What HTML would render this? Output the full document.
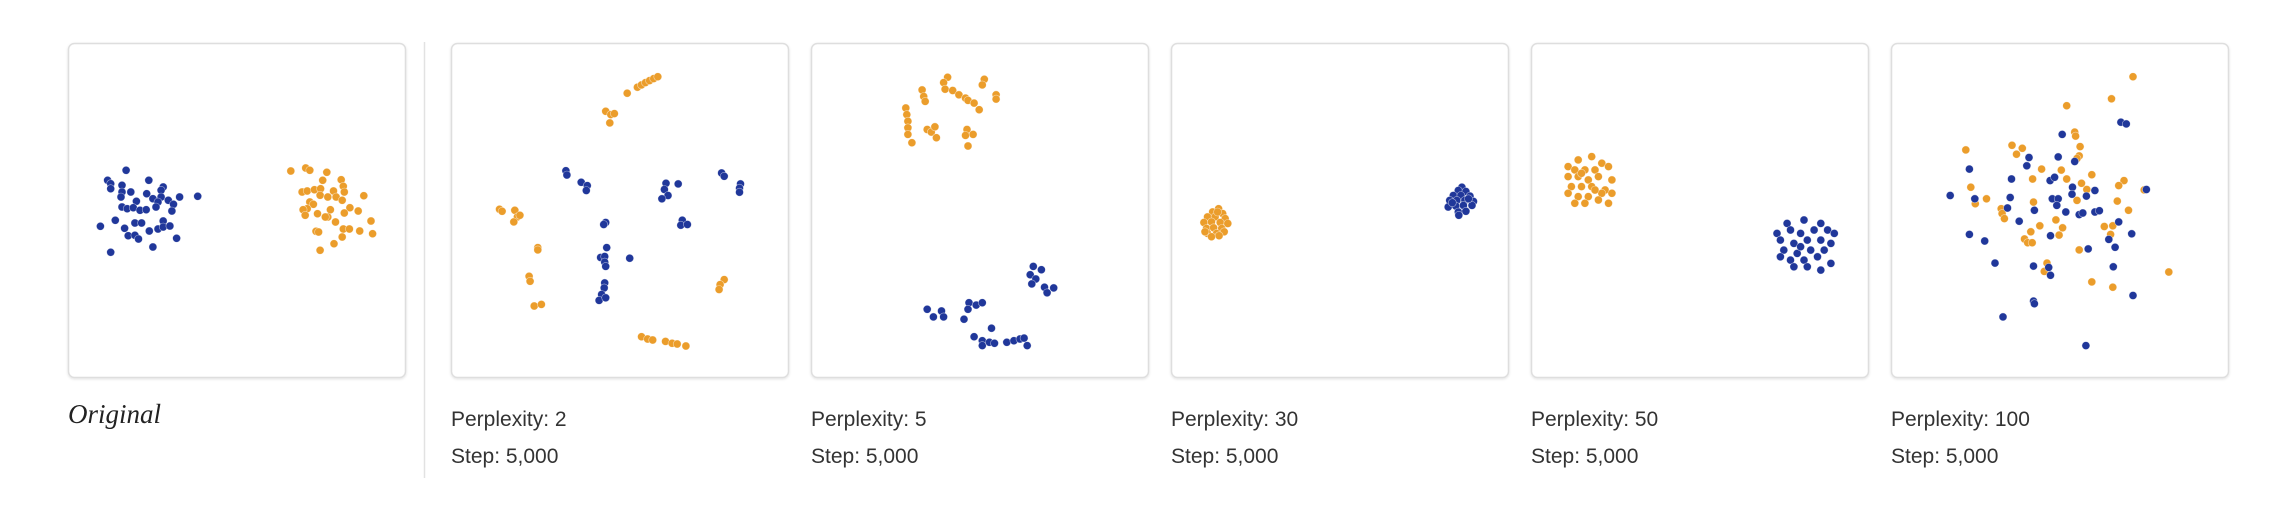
<!DOCTYPE html>
<html><head><meta charset="utf-8"><style>
html,body{margin:0;padding:0;background:#fff;}
svg{display:block;}
</style></head><body>
<svg id="c" width="2282" height="510" xmlns="http://www.w3.org/2000/svg">
<defs><filter id="sh" x="-5%" y="-5%" width="110%" height="110%"><feDropShadow dx="0" dy="1" stdDeviation="1.2" flood-color="#000" flood-opacity="0.12"/></filter></defs>
<line x1="424.5" y1="42" x2="424.5" y2="478" stroke="#e2e2e2" stroke-width="1.5"/>
</svg>
<script>
// ---- data (per-panel coordinates in each panel's data units) ----
const panelLabels = ["Original","Perplexity: 2","Perplexity: 5","Perplexity: 30","Perplexity: 50","Perplexity: 100"];
const stepLabel = "Step: 5,000";
const xDomains = [[135,790],[885,1545],[22,683],[728,1393],[0,100],[700,1452]];
const yDomains = [[128,1130],[128,1140],[128,1140],[128,1140],[0,100],[128,1140]];

const p1Blue=[[248,510],[212,540],[218,550],[218,565],[240,555],[292,540],[320,560],[316,570],[240,575],[257,575],[288,580],[238,590],[300,595],[316,590],[330,600],[352,590],[387,588],[268,603],[310,605],[340,612],[240,620],[250,625],[262,622],[275,630],[287,628],[306,620],[337,632],[227,660],[265,668],[278,668],[320,662],[198,678],[245,684],[293,692],[310,686],[320,680],[333,677],[252,706],[265,705],[272,716],[346,714],[218,756],[300,740]];
const p1Orange=[[568,512],[597,503],[605,510],[638,516],[630,540],[666,538],[670,558],[590,575],[600,572],[614,568],[626,565],[651,572],[672,575],[710,586],[625,585],[640,590],[656,590],[668,600],[605,605],[612,612],[600,625],[592,628],[620,640],[645,628],[640,650],[635,650],[683,622],[699,632],[672,638],[596,645],[655,665],[724,662],[617,693],[622,695],[670,686],[682,686],[702,692],[727,700],[668,710],[652,730],[625,750]];

const p2Orange=[[1230,280],[1250,262],[1258,255],[1266,248],[1274,242],[1282,236],[1290,230],[1188,335],[1198,345],[1205,342],[1196,370],[980,632],[985,638],[1010,635],[1015,655],[1020,650],[1008,670],[1055,748],[1055,755],[1038,835],[1040,850],[1048,925],[1062,920],[1420,845],[1412,860],[1410,875],[1258,1018],[1270,1025],[1280,1028],[1305,1032],[1318,1038],[1328,1040],[1345,1046]];
const p2Blue=[[1110,515],[1112,528],[1140,550],[1152,560],[1150,575],[1306,553],[1330,555],[1303,572],[1310,590],[1298,600],[1415,522],[1420,532],[1452,555],[1450,568],[1450,580],[1188,672],[1184,678],[1338,665],[1335,680],[1348,678],[1190,748],[1178,778],[1186,775],[1186,792],[1188,805],[1235,780],[1186,855],[1185,870],[1180,890],[1175,908],[1188,900]];

const p3Orange=[[290,232],[282,248],[285,268],[300,272],[312,285],[325,295],[330,302],[342,310],[352,330],[362,238],[358,255],[385,285],[385,298],[240,270],[243,290],[246,305],[208,325],[210,345],[212,365],[212,385],[212,405],[220,430],[250,390],[258,398],[265,382],[268,415],[328,390],[325,408],[340,405],[330,440]];
const p3Blue=[[458,805],[474,815],[452,830],[463,843],[455,858],[480,868],[498,870],[485,885],[250,935],[262,958],[278,940],[282,958],[332,915],[346,922],[358,915],[330,935],[322,965],[376,992],[342,1018],[358,1030],[358,1045],[372,1035],[382,1038],[406,1035],[420,1030],[432,1025],[440,1022],[446,1045]];

const p4Orange=[[822,630],[810,640],[830,645],[800,655],[815,655],[835,660],[793,672],[808,670],[825,672],[840,675],[798,690],[812,688],[828,690],[800,705],[818,705],[833,700],[808,715],[823,712],[795,700],[820,640]];
const p4Blue=[[1302,565],[1295,575],[1310,578],[1285,590],[1300,590],[1318,592],[1278,605],[1292,605],[1308,605],[1325,608],[1275,625],[1290,622],[1305,620],[1322,620],[1295,640],[1310,638],[1296,650],[1283,612],[1315,600]];

const p5Orange=[[14,35],[18,34],[21,36],[11,37],[13,38],[16,38],[19,38],[23,37],[11,40],[14,40],[17,41],[20,40],[24,41],[12,43],[15,43],[18,43],[22,44],[11,45],[14,46],[17,46],[21,45],[24,45],[13,48],[16,48],[20,47],[23,48],[15,39],[19,44]];
const p5Blue=[[76,54],[81,53],[86,54],[73,57],[77,56],[80,57],[84,56],[88,56],[90,57],[74,59],[78,60],[82,59],[86,59],[89,60],[75,62],[79,63],[83,62],[87,62],[74,64],[77,65],[81,65],[85,64],[89,66],[78,67],[82,67],[86,68],[80,61]];

const p6Orange=[[1240,230],[1192,297],[1092,318],[1110,398],[1112,410],[1122,442],[1120,470],[1115,478],[867,452],[970,438],[993,447],[980,465],[1036,510],[1080,513],[1148,527],[1016,540],[1092,540],[1125,553],[1220,545],[1208,560],[1137,572],[878,565],[913,600],[888,615],[1018,610],[1115,605],[1205,607],[1265,573],[946,630],[948,645],[953,660],[1230,635],[1068,664],[1032,682],[1083,688],[1012,700],[1075,710],[1176,684],[1195,682],[1190,708],[998,722],[1005,733],[1015,733],[1120,755],[1048,795],[1042,820],[1148,852],[1195,868],[1320,822]];
const p6Blue=[[1213,368],[1225,373],[1082,405],[1008,475],[1073,473],[1110,487],[1003,500],[875,510],[969,540],[1055,545],[1065,535],[1105,565],[1155,575],[1270,572],[1104,586],[1136,592],[832,590],[887,600],[966,596],[1060,600],[1073,600],[1070,620],[960,628],[1020,635],[1090,640],[1120,648],[1128,643],[1155,640],[1165,636],[986,668],[1208,670],[875,708],[909,728],[1056,712],[1237,706],[1186,723],[1200,747],[1140,752],[932,795],[1018,804],[1052,808],[1056,832],[1196,806],[1018,910],[1020,918],[1240,893],[950,958],[1135,1045]];

const blueSeries=[p1Blue,p2Blue,p3Blue,p4Blue,p5Blue,p6Blue];
const orangeSeries=[p1Orange,p2Orange,p3Orange,p4Orange,p5Orange,p6Orange];

// ---- layout ----
const NS="http://www.w3.org/2000/svg";
const svg=document.getElementById('c');
const panelX=[68,451,811,1171,1531,1891];
const panelW=337, panelY=43, panelH=334;
const BLUE="#20379a", ORANGE="#eb9d2b";

function scale(d,r0,r1){return v=>r0+(v-d[0])/(d[1]-d[0])*(r1-r0);}

for(let i=0;i<6;i++){
  const g=document.createElementNS(NS,'g');
  
  
  svg.appendChild(g);
  const r=document.createElementNS(NS,'rect');
  r.setAttribute('x',panelX[i]+0.5);r.setAttribute('y',panelY+0.5);
  r.setAttribute('width',panelW);r.setAttribute('height',panelH);
  r.setAttribute('rx',6);r.setAttribute('fill','#fff');
  r.setAttribute('stroke','#dedede');r.setAttribute('stroke-width','1.5');
  r.setAttribute('filter','url(#sh)');
  
  
  g.appendChild(r);
  const sx=scale(xDomains[i],panelX[i],panelX[i]+panelW);
  const sy=scale(yDomains[i],panelY,panelY+panelH);
  [[orangeSeries[i],ORANGE,'orange-point'],[blueSeries[i],BLUE,'blue-point']].forEach(([pts,col,nm])=>{
    pts.forEach(p=>{
      const c=document.createElementNS(NS,'circle');
      c.setAttribute('cx',sx(p[0]).toFixed(1));
      c.setAttribute('cy',sy(p[1]).toFixed(1));
      c.setAttribute('r',4);
      c.setAttribute('fill',col);
      c.setAttribute('stroke','#fff');
      c.setAttribute('stroke-width','0.6');
      c.setAttribute('stroke-opacity','0.6');
      
      
      g.appendChild(c);
    });
  });
  if(i===0){
    const t=document.createElementNS(NS,'text');
    t.setAttribute('x',68);t.setAttribute('y',423);
    t.setAttribute('font-family','"Liberation Serif", serif');
    t.setAttribute('font-style','italic');t.setAttribute('font-size','27');
    t.setAttribute('fill','#222');
    t.textContent=panelLabels[0];
    
    
    g.appendChild(t);
  } else {
    const t=document.createElementNS(NS,'text');
    t.setAttribute('x',panelX[i]);t.setAttribute('y',426);
    t.setAttribute('font-family','"Liberation Sans", sans-serif');
    t.setAttribute('font-size','21');t.setAttribute('fill','#333');
    t.textContent=panelLabels[i];
    
    
    g.appendChild(t);
    const s=document.createElementNS(NS,'text');
    s.setAttribute('x',panelX[i]);s.setAttribute('y',463);
    s.setAttribute('font-family','"Liberation Sans", sans-serif');
    s.setAttribute('font-size','21');s.setAttribute('fill','#333');
    s.textContent=stepLabel;
    
    
    g.appendChild(s);
  }
}
</script>
</body></html>
